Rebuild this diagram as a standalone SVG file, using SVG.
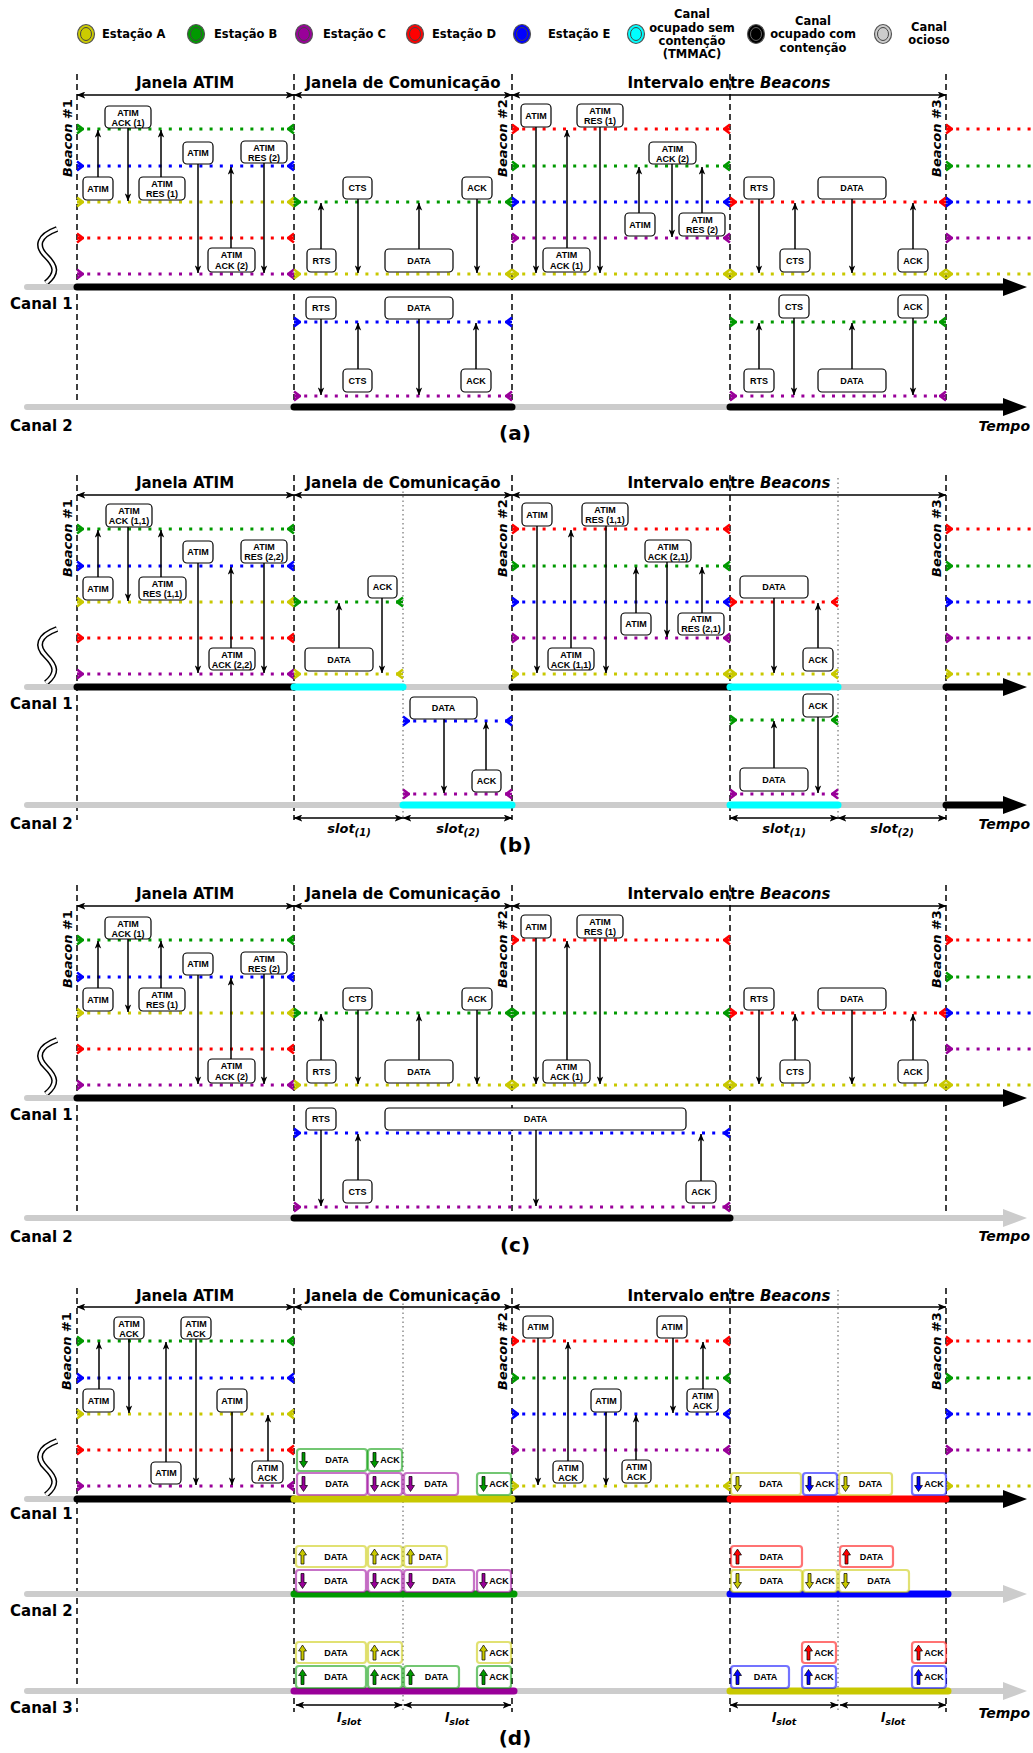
<svg xmlns="http://www.w3.org/2000/svg" width="1033" height="1753" viewBox="0 0 1033 1753">
<style>
.t{font-family:"DejaVu Sans",Verdana,sans-serif;font-weight:bold;fill:#000}
.hd{font-size:15px;text-anchor:middle}
.lg{font-size:11.5px}
.lgc{font-size:11.5px;text-anchor:middle}
.cl{font-size:15px}
.pl{font-size:20px;text-anchor:middle}
.tp{font-size:14px;font-style:italic;text-anchor:end}
.bc{font-size:13px;text-anchor:middle}
.sl{font-size:13px;font-style:italic;text-anchor:middle}
.bx{fill:#fff;stroke:#000;stroke-width:1.2}
.bt{font-family:"Liberation Sans",Arial,sans-serif;font-weight:bold;font-size:9px;text-anchor:middle;fill:#000}
.cb{fill:#fff;stroke-width:2.2;stroke-opacity:.55}
.ar{stroke:#000;stroke-width:1.5;fill:none;marker-end:url(#ah)}
.hda{stroke:#000;stroke-width:1.5;fill:none;marker-start:url(#ha);marker-end:url(#ha)}
.vd{stroke:#000;stroke-width:1.5;stroke-dasharray:6 4}
.vt{stroke:#555;stroke-width:1;stroke-dasharray:1.5 3}
.dl{fill:none;stroke-width:3;stroke-dasharray:3 7.2}
.Y{stroke:#c8c800;marker-start:url(#mY);marker-end:url(#mY)}
.G{stroke:#009900;marker-start:url(#mG);marker-end:url(#mG)}
.P{stroke:#990099;marker-start:url(#mP);marker-end:url(#mP)}
.R{stroke:#ff0000;marker-start:url(#mR);marker-end:url(#mR)}
.B{stroke:#0000ff;marker-start:url(#mB);marker-end:url(#mB)}
.oe{marker-end:none}
.ck{stroke:#000;stroke-width:7;stroke-linecap:round}
.cg{stroke:#cccccc;stroke-width:6;stroke-linecap:round}
.cc{stroke:#00ffff;stroke-width:7;stroke-linecap:round}
.brk1{fill:none;stroke:#000;stroke-width:6}
.brk2{fill:none;stroke:#fff;stroke-width:3}
</style>
<defs>
<marker id="ah" viewBox="0 0 10 8" refX="9.5" refY="4" markerWidth="8" markerHeight="7" markerUnits="userSpaceOnUse" orient="auto"><path d="M0,0L10,4L0,8L2.5,4Z" fill="#000"/></marker>
<marker id="ha" viewBox="0 0 10 8" refX="9.5" refY="4" markerWidth="9" markerHeight="7" markerUnits="userSpaceOnUse" orient="auto-start-reverse"><path d="M0,0L10,4L0,8L2.5,4Z" fill="#000"/></marker>
<marker id="mY" viewBox="-8 -6 9 12" refX="0" refY="0" markerWidth="9" markerHeight="12" markerUnits="userSpaceOnUse" orient="auto-start-reverse"><path d="M-6,0L0,-4.5M-6,0L0,4.5M-7,0H0" stroke="#c8c800" stroke-width="2.4" fill="none"/></marker>
<marker id="mG" viewBox="-8 -6 9 12" refX="0" refY="0" markerWidth="9" markerHeight="12" markerUnits="userSpaceOnUse" orient="auto-start-reverse"><path d="M-6,0L0,-4.5M-6,0L0,4.5M-7,0H0" stroke="#009900" stroke-width="2.4" fill="none"/></marker>
<marker id="mP" viewBox="-8 -6 9 12" refX="0" refY="0" markerWidth="9" markerHeight="12" markerUnits="userSpaceOnUse" orient="auto-start-reverse"><path d="M-6,0L0,-4.5M-6,0L0,4.5M-7,0H0" stroke="#990099" stroke-width="2.4" fill="none"/></marker>
<marker id="mR" viewBox="-8 -6 9 12" refX="0" refY="0" markerWidth="9" markerHeight="12" markerUnits="userSpaceOnUse" orient="auto-start-reverse"><path d="M-6,0L0,-4.5M-6,0L0,4.5M-7,0H0" stroke="#ff0000" stroke-width="2.4" fill="none"/></marker>
<marker id="mB" viewBox="-8 -6 9 12" refX="0" refY="0" markerWidth="9" markerHeight="12" markerUnits="userSpaceOnUse" orient="auto-start-reverse"><path d="M-6,0L0,-4.5M-6,0L0,4.5M-7,0H0" stroke="#0000ff" stroke-width="2.4" fill="none"/></marker>
<path id="dn" d="M2.5,0H5.5V9H8L4,15L0,9H2.5Z" stroke="#000" stroke-width=".7"/>
<path id="up" d="M4,0L8,6H5.5V15H2.5V6H0Z" stroke="#000" stroke-width=".7"/>
</defs>
<rect width="1033" height="1753" fill="#fff"/>

<g id="legend">
<ellipse cx="86" cy="34" rx="8.5" ry="9.5" fill="#cccc00" stroke="#555" stroke-width="1.2"/><ellipse cx="86" cy="34" rx="5.5" ry="6.5" fill="none" stroke="#444" stroke-width="1"/>
<text class="t lg" x="102" y="38">Estação A</text>
<ellipse cx="196" cy="34" rx="8.5" ry="9.5" fill="#009900" stroke="#555" stroke-width="1.2"/><ellipse cx="196" cy="34" rx="5.5" ry="6.5" fill="none" stroke="#444" stroke-width="1"/>
<text class="t lg" x="214" y="38">Estação B</text>
<ellipse cx="304" cy="34" rx="8.5" ry="9.5" fill="#990099" stroke="#555" stroke-width="1.2"/><ellipse cx="304" cy="34" rx="5.5" ry="6.5" fill="none" stroke="#444" stroke-width="1"/>
<text class="t lg" x="323" y="38">Estação C</text>
<ellipse cx="415" cy="34" rx="8.5" ry="9.5" fill="#ff0000" stroke="#555" stroke-width="1.2"/><ellipse cx="415" cy="34" rx="5.5" ry="6.5" fill="none" stroke="#444" stroke-width="1"/>
<text class="t lg" x="432" y="38">Estação D</text>
<ellipse cx="522" cy="34" rx="8.5" ry="9.5" fill="#0000ff" stroke="#555" stroke-width="1.2"/><ellipse cx="522" cy="34" rx="5.5" ry="6.5" fill="none" stroke="#444" stroke-width="1"/>
<text class="t lg" x="548" y="38">Estação E</text>
<ellipse cx="636" cy="34" rx="8.5" ry="9.5" fill="#00ffff" stroke="#555" stroke-width="1.2"/><ellipse cx="636" cy="34" rx="5.5" ry="6.5" fill="none" stroke="#444" stroke-width="1"/>
<text class="t lgc" x="692" y="18">Canal</text><text class="t lgc" x="692" y="32">ocupado sem</text><text class="t lgc" x="692" y="45">contenção</text><text class="t lgc" x="692" y="58">(TMMAC)</text>
<ellipse cx="756" cy="34" rx="8.5" ry="9.5" fill="#000" stroke="#555" stroke-width="1.2"/><ellipse cx="756" cy="34" rx="5.5" ry="6.5" fill="none" stroke="#666" stroke-width="1"/>
<text class="t lgc" x="813" y="25">Canal</text><text class="t lgc" x="813" y="38">ocupado com</text><text class="t lgc" x="813" y="52">contenção</text>
<ellipse cx="883" cy="34" rx="8.5" ry="9.5" fill="#cccccc" stroke="#555" stroke-width="1.2"/><ellipse cx="883" cy="34" rx="5.5" ry="6.5" fill="none" stroke="#444" stroke-width="1"/>
<text class="t lgc" x="929" y="31">Canal</text><text class="t lgc" x="929" y="44">ocioso</text>
</g>

<!-- ================= PANEL A ================= -->
<g id="panel-a">
<g id="a-frame">
<line class="vd" x1="77" y1="74" x2="77" y2="402"/><line class="vd" x1="294" y1="74" x2="294" y2="402"/><line class="vd" x1="512" y1="74" x2="512" y2="402"/><line class="vd" x1="730" y1="74" x2="730" y2="402"/><line class="vd" x1="946" y1="74" x2="946" y2="402"/>
<text class="t hd" x="185" y="88">Janela ATIM</text>
<text class="t hd" x="403" y="88">Janela de Comunicação</text>
<text class="t hd" x="729" y="88">Intervalo entre <tspan font-style="italic">Beacons</tspan></text>
<line class="hda" x1="77" y1="95" x2="294" y2="95"/><line class="hda" x1="294" y1="95" x2="512" y2="95"/><line class="hda" x1="512" y1="95" x2="946" y2="95"/>
<text class="t bc" transform="translate(72,138) rotate(-90)"><tspan font-style="italic">Beacon</tspan> #1</text>
<text class="t bc" transform="translate(507,138) rotate(-90)"><tspan font-style="italic">Beacon</tspan> #2</text>
<text class="t bc" transform="translate(941,138) rotate(-90)"><tspan font-style="italic">Beacon</tspan> #3</text>
<path class="brk1" d="M57,229C38,236 36,246 46,256C56,266 58,273 46,283"/><path class="brk2" d="M57,229C38,236 36,246 46,256C56,266 58,273 46,283"/>
<text class="t cl" x="10" y="309">Canal 1</text>
<text class="t cl" x="10" y="431">Canal 2</text>
<text class="t pl" x="515" y="440">(a)</text>
<text class="t tp" x="1030" y="431">Tempo</text>
</g>
<g id="a-lines">
<line class="dl G" x1="77" y1="129" x2="294" y2="129"/><line class="dl B" x1="77" y1="166" x2="294" y2="166"/><line class="dl Y" x1="77" y1="202" x2="294" y2="202"/><line class="dl R" x1="77" y1="238" x2="294" y2="238"/><line class="dl P" x1="77" y1="274" x2="294" y2="274"/>
<line class="dl G" x1="294" y1="202" x2="512" y2="202"/><line class="dl Y" x1="294" y1="274" x2="512" y2="274"/>
<line class="dl R" x1="512" y1="129" x2="730" y2="129"/><line class="dl G" x1="512" y1="166" x2="730" y2="166"/><line class="dl B" x1="512" y1="202" x2="730" y2="202"/><line class="dl P" x1="512" y1="238" x2="730" y2="238"/><line class="dl Y" x1="512" y1="274" x2="730" y2="274"/>
<line class="dl R" x1="730" y1="202" x2="946" y2="202"/><line class="dl Y" x1="730" y1="274" x2="946" y2="274"/>
<line class="dl R oe" x1="946" y1="129" x2="1033" y2="129"/><line class="dl G oe" x1="946" y1="166" x2="1033" y2="166"/><line class="dl B oe" x1="946" y1="202" x2="1033" y2="202"/><line class="dl P oe" x1="946" y1="238" x2="1033" y2="238"/><line class="dl Y oe" x1="946" y1="274" x2="1033" y2="274"/>
<line class="dl B" x1="294" y1="322" x2="512" y2="322"/><line class="dl P" x1="294" y1="396" x2="512" y2="396"/>
<line class="dl G" x1="730" y1="322" x2="946" y2="322"/><line class="dl P" x1="730" y1="396" x2="946" y2="396"/>
</g>
<g id="a-channels">
<line class="cg" x1="27" y1="287" x2="1008" y2="287"/><line class="ck" x1="77" y1="287" x2="1008" y2="287"/><polygon points="1003,278 1027,287 1003,296" fill="#000"/>
<line class="cg" x1="27" y1="407" x2="1008" y2="407"/><line class="ck" x1="294" y1="407" x2="512" y2="407"/><line class="ck" x1="730" y1="407" x2="1008" y2="407"/><polygon points="1003,398 1027,407 1003,416" fill="#000"/>
</g>
<g id="a-connectors">
<line class="ar" x1="98" y1="177" x2="98" y2="130"/><line class="ar" x1="128" y1="128" x2="128" y2="201"/><line class="ar" x1="161" y1="177" x2="161" y2="130"/><line class="ar" x1="198" y1="164" x2="198" y2="273"/><line class="ar" x1="231" y1="248" x2="231" y2="167"/><line class="ar" x1="264" y1="163" x2="264" y2="273"/>
<line class="ar" x1="358" y1="199" x2="358" y2="273"/><line class="ar" x1="477" y1="199" x2="477" y2="273"/><line class="ar" x1="321" y1="249" x2="321" y2="203"/><line class="ar" x1="419" y1="249" x2="419" y2="203"/>
<line class="ar" x1="536" y1="127" x2="536" y2="273"/><line class="ar" x1="600" y1="127" x2="600" y2="273"/><line class="ar" x1="567" y1="248" x2="567" y2="130"/><line class="ar" x1="672" y1="164" x2="672" y2="237"/><line class="ar" x1="639" y1="213" x2="639" y2="167"/><line class="ar" x1="702" y1="213" x2="702" y2="167"/>
<line class="ar" x1="759" y1="199" x2="759" y2="273"/><line class="ar" x1="852" y1="199" x2="852" y2="273"/><line class="ar" x1="795" y1="249" x2="795" y2="203"/><line class="ar" x1="913" y1="249" x2="913" y2="203"/>
<line class="ar" x1="321" y1="319" x2="321" y2="395"/><line class="ar" x1="419" y1="319" x2="419" y2="395"/><line class="ar" x1="358" y1="369" x2="358" y2="323"/><line class="ar" x1="476" y1="369" x2="476" y2="323"/>
<line class="ar" x1="794" y1="318" x2="794" y2="395"/><line class="ar" x1="913" y1="318" x2="913" y2="395"/><line class="ar" x1="759" y1="369" x2="759" y2="323"/><line class="ar" x1="852" y1="369" x2="852" y2="323"/>
</g>
<g id="a-nodes">
<g id="a-atim1"><rect class="bx" x="83" y="177" width="30" height="23" rx="4"/><text class="bt" x="98" y="191.8">ATIM</text></g>
<g id="a-atimack1"><rect class="bx" x="105" y="106" width="46" height="22" rx="4"/><text class="bt" x="128" y="115.5">ATIM</text><text class="bt" x="128" y="125.5">ACK (1)</text></g>
<g id="a-atimres1"><rect class="bx" x="139" y="177" width="46" height="23" rx="4"/><text class="bt" x="162" y="186.5">ATIM</text><text class="bt" x="162" y="196.5">RES (1)</text></g>
<g id="a-atim2"><rect class="bx" x="183" y="142" width="30" height="22" rx="4"/><text class="bt" x="198" y="156.3">ATIM</text></g>
<g id="a-atimack2"><rect class="bx" x="208" y="248" width="47" height="24" rx="4"/><text class="bt" x="231.5" y="258">ATIM</text><text class="bt" x="231.5" y="268.5">ACK (2)</text></g>
<g id="a-atimres2"><rect class="bx" x="241" y="141" width="46" height="22" rx="4"/><text class="bt" x="264" y="150.5">ATIM</text><text class="bt" x="264" y="160.5">RES (2)</text></g>
<g id="a-cts1"><rect class="bx" x="343" y="177" width="29" height="22" rx="4"/><text class="bt" x="357.5" y="191.3">CTS</text></g>
<g id="a-ack1"><rect class="bx" x="462" y="177" width="30" height="22" rx="4"/><text class="bt" x="477" y="191.3">ACK</text></g>
<g id="a-rts1"><rect class="bx" x="307" y="249" width="29" height="23" rx="4"/><text class="bt" x="321.5" y="263.8">RTS</text></g>
<g id="a-data1"><rect class="bx" x="385" y="249" width="68" height="23" rx="4"/><text class="bt" x="419" y="263.8">DATA</text></g>
<g id="a-atim3"><rect class="bx" x="521" y="104" width="30" height="23" rx="4"/><text class="bt" x="536" y="118.8">ATIM</text></g>
<g id="a-atimres3"><rect class="bx" x="577" y="104" width="46" height="23" rx="4"/><text class="bt" x="600" y="113.5">ATIM</text><text class="bt" x="600" y="123.5">RES (1)</text></g>
<g id="a-atimack3"><rect class="bx" x="543" y="248" width="47" height="24" rx="4"/><text class="bt" x="566.5" y="258">ATIM</text><text class="bt" x="566.5" y="268.5">ACK (1)</text></g>
<g id="a-atimack4"><rect class="bx" x="649" y="142" width="47" height="22" rx="4"/><text class="bt" x="672.5" y="151.5">ATIM</text><text class="bt" x="672.5" y="161.5">ACK (2)</text></g>
<g id="a-atim4"><rect class="bx" x="625" y="213" width="30" height="23" rx="4"/><text class="bt" x="640" y="227.8">ATIM</text></g>
<g id="a-atimres4"><rect class="bx" x="679" y="213" width="46" height="23" rx="4"/><text class="bt" x="702" y="222.5">ATIM</text><text class="bt" x="702" y="232.5">RES (2)</text></g>
<g id="a-rts2"><rect class="bx" x="744" y="177" width="30" height="22" rx="4"/><text class="bt" x="759" y="191.3">RTS</text></g>
<g id="a-data2"><rect class="bx" x="818" y="177" width="68" height="22" rx="4"/><text class="bt" x="852" y="191.3">DATA</text></g>
<g id="a-cts2"><rect class="bx" x="780" y="249" width="30" height="23" rx="4"/><text class="bt" x="795" y="263.8">CTS</text></g>
<g id="a-ack2"><rect class="bx" x="898" y="249" width="30" height="23" rx="4"/><text class="bt" x="913" y="263.8">ACK</text></g>
<g id="a-rts3"><rect class="bx" x="306" y="297" width="30" height="22" rx="4"/><text class="bt" x="321" y="311.3">RTS</text></g>
<g id="a-data3"><rect class="bx" x="385" y="297" width="68" height="22" rx="4"/><text class="bt" x="419" y="311.3">DATA</text></g>
<g id="a-cts3"><rect class="bx" x="343" y="369" width="29" height="23" rx="4"/><text class="bt" x="357.5" y="383.8">CTS</text></g>
<g id="a-ack3"><rect class="bx" x="461" y="369" width="30" height="23" rx="4"/><text class="bt" x="476" y="383.8">ACK</text></g>
<g id="a-cts4"><rect class="bx" x="779" y="295" width="30" height="23" rx="4"/><text class="bt" x="794" y="309.8">CTS</text></g>
<g id="a-ack4"><rect class="bx" x="898" y="295" width="30" height="23" rx="4"/><text class="bt" x="913" y="309.8">ACK</text></g>
<g id="a-rts4"><rect class="bx" x="744" y="369" width="30" height="23" rx="4"/><text class="bt" x="759" y="383.8">RTS</text></g>
<g id="a-data4"><rect class="bx" x="818" y="369" width="68" height="23" rx="4"/><text class="bt" x="852" y="383.8">DATA</text></g>
</g>
</g>

<!-- ================= PANEL B ================= -->
<g id="panel-b" transform="translate(0,400)">
<g id="b-frame">
<line class="vd" x1="77" y1="75" x2="77" y2="420"/><line class="vd" x1="294" y1="75" x2="294" y2="420"/><line class="vd" x1="512" y1="75" x2="512" y2="420"/><line class="vd" x1="730" y1="75" x2="730" y2="420"/><line class="vd" x1="946" y1="75" x2="946" y2="420"/>
<line class="vt" x1="403" y1="78" x2="403" y2="420"/><line class="vt" x1="838" y1="78" x2="838" y2="420"/>
<text class="t hd" x="185" y="88">Janela ATIM</text>
<text class="t hd" x="403" y="88">Janela de Comunicação</text>
<text class="t hd" x="729" y="88">Intervalo entre <tspan font-style="italic">Beacons</tspan></text>
<line class="hda" x1="77" y1="95" x2="294" y2="95"/><line class="hda" x1="294" y1="95" x2="512" y2="95"/><line class="hda" x1="512" y1="95" x2="946" y2="95"/>
<text class="t bc" transform="translate(72,138) rotate(-90)"><tspan font-style="italic">Beacon</tspan> #1</text>
<text class="t bc" transform="translate(507,138) rotate(-90)"><tspan font-style="italic">Beacon</tspan> #2</text>
<text class="t bc" transform="translate(941,138) rotate(-90)"><tspan font-style="italic">Beacon</tspan> #3</text>
<path class="brk1" d="M57,229C38,236 36,246 46,256C56,266 58,273 46,283"/><path class="brk2" d="M57,229C38,236 36,246 46,256C56,266 58,273 46,283"/>
<line class="hda" x1="294" y1="418" x2="403" y2="418"/><line class="hda" x1="403" y1="418" x2="512" y2="418"/><line class="hda" x1="730" y1="418" x2="838" y2="418"/><line class="hda" x1="838" y1="418" x2="946" y2="418"/>
<text class="t sl" x="349" y="433">slot<tspan font-size="10" dy="3">(1)</tspan></text>
<text class="t sl" x="458" y="433">slot<tspan font-size="10" dy="3">(2)</tspan></text>
<text class="t sl" x="784" y="433">slot<tspan font-size="10" dy="3">(1)</tspan></text>
<text class="t sl" x="892" y="433">slot<tspan font-size="10" dy="3">(2)</tspan></text>
<text class="t cl" x="10" y="309">Canal 1</text>
<text class="t cl" x="10" y="429">Canal 2</text>
<text class="t pl" x="515" y="452">(b)</text>
<text class="t tp" x="1030" y="429">Tempo</text>
</g>
<g id="b-lines">
<line class="dl G" x1="77" y1="129" x2="294" y2="129"/><line class="dl B" x1="77" y1="166" x2="294" y2="166"/><line class="dl Y" x1="77" y1="202" x2="294" y2="202"/><line class="dl R" x1="77" y1="238" x2="294" y2="238"/><line class="dl P" x1="77" y1="274" x2="294" y2="274"/>
<line class="dl G" x1="294" y1="202" x2="403" y2="202"/><line class="dl Y" x1="294" y1="274" x2="403" y2="274"/>
<line class="dl R" x1="512" y1="129" x2="730" y2="129"/><line class="dl G" x1="512" y1="166" x2="730" y2="166"/><line class="dl B" x1="512" y1="202" x2="730" y2="202"/><line class="dl P" x1="512" y1="238" x2="730" y2="238"/><line class="dl Y" x1="512" y1="274" x2="730" y2="274"/>
<line class="dl R" x1="730" y1="202" x2="838" y2="202"/><line class="dl Y" x1="730" y1="274" x2="838" y2="274"/>
<line class="dl R oe" x1="946" y1="129" x2="1033" y2="129"/><line class="dl G oe" x1="946" y1="166" x2="1033" y2="166"/><line class="dl B oe" x1="946" y1="202" x2="1033" y2="202"/><line class="dl P oe" x1="946" y1="238" x2="1033" y2="238"/><line class="dl Y oe" x1="946" y1="274" x2="1033" y2="274"/>
<line class="dl B" x1="403" y1="321" x2="512" y2="321"/><line class="dl P" x1="403" y1="394" x2="512" y2="394"/>
<line class="dl G" x1="730" y1="320" x2="838" y2="320"/><line class="dl P" x1="730" y1="394" x2="838" y2="394"/>
</g>
<g id="b-channels">
<line class="cg" x1="27" y1="287" x2="1008" y2="287"/><line class="ck" x1="77" y1="287" x2="294" y2="287"/><line class="ck" x1="512" y1="287" x2="730" y2="287"/><line class="ck" x1="946" y1="287" x2="1008" y2="287"/><line class="cc" x1="294" y1="287" x2="403" y2="287"/><line class="cc" x1="730" y1="287" x2="838" y2="287"/><polygon points="1003,278 1027,287 1003,296" fill="#000"/>
<line class="cg" x1="27" y1="405" x2="1008" y2="405"/><line class="cc" x1="403" y1="405" x2="512" y2="405"/><line class="cc" x1="730" y1="405" x2="838" y2="405"/><line class="ck" x1="946" y1="405" x2="1008" y2="405"/><polygon points="1003,396 1027,405 1003,414" fill="#000"/>
</g>
<g id="b-connectors">
<line class="ar" x1="98" y1="177" x2="98" y2="130"/><line class="ar" x1="128" y1="127" x2="128" y2="201"/><line class="ar" x1="161" y1="177" x2="161" y2="130"/><line class="ar" x1="198" y1="163" x2="198" y2="273"/><line class="ar" x1="231" y1="248" x2="231" y2="167"/><line class="ar" x1="264" y1="163" x2="264" y2="273"/>
<line class="ar" x1="382" y1="198" x2="382" y2="273"/><line class="ar" x1="339" y1="248" x2="339" y2="203"/>
<line class="ar" x1="537" y1="126" x2="537" y2="273"/><line class="ar" x1="606" y1="126" x2="606" y2="273"/><line class="ar" x1="571" y1="248" x2="571" y2="130"/><line class="ar" x1="667" y1="162" x2="667" y2="237"/><line class="ar" x1="636" y1="213" x2="636" y2="167"/><line class="ar" x1="702" y1="213" x2="702" y2="167"/>
<line class="ar" x1="774" y1="198" x2="774" y2="273"/><line class="ar" x1="818" y1="248" x2="818" y2="203"/>
<line class="ar" x1="444" y1="319" x2="444" y2="393"/><line class="ar" x1="486" y1="370" x2="486" y2="322"/>
<line class="ar" x1="818" y1="317" x2="818" y2="393"/><line class="ar" x1="774" y1="368" x2="774" y2="321"/>
</g>
<g id="b-nodes">
<g id="b-atim1"><rect class="bx" x="83" y="177" width="30" height="23" rx="4"/><text class="bt" x="98" y="191.8">ATIM</text></g>
<g id="b-atimack1"><rect class="bx" x="106" y="104" width="46" height="23" rx="4"/><text class="bt" x="129" y="113.5">ATIM</text><text class="bt" x="129" y="123.5">ACK (1,1)</text></g>
<g id="b-atimres1"><rect class="bx" x="139" y="177" width="47" height="23" rx="4"/><text class="bt" x="162.5" y="186.5">ATIM</text><text class="bt" x="162.5" y="196.5">RES (1,1)</text></g>
<g id="b-atim2"><rect class="bx" x="183" y="141" width="30" height="22" rx="4"/><text class="bt" x="198" y="155.3">ATIM</text></g>
<g id="b-atimack2"><rect class="bx" x="209" y="248" width="46" height="22" rx="4"/><text class="bt" x="232" y="257.5">ATIM</text><text class="bt" x="232" y="267.5">ACK (2,2)</text></g>
<g id="b-atimres2"><rect class="bx" x="241" y="140" width="46" height="23" rx="4"/><text class="bt" x="264" y="149.5">ATIM</text><text class="bt" x="264" y="159.5">RES (2,2)</text></g>
<g id="b-ack1"><rect class="bx" x="368" y="176" width="29" height="22" rx="4"/><text class="bt" x="382.5" y="190.3">ACK</text></g>
<g id="b-data1"><rect class="bx" x="305" y="248" width="68" height="23" rx="4"/><text class="bt" x="339" y="262.8">DATA</text></g>
<g id="b-atim3"><rect class="bx" x="522" y="103" width="30" height="23" rx="4"/><text class="bt" x="537" y="117.8">ATIM</text></g>
<g id="b-atimres3"><rect class="bx" x="582" y="103" width="46" height="23" rx="4"/><text class="bt" x="605" y="112.5">ATIM</text><text class="bt" x="605" y="122.5">RES (1,1)</text></g>
<g id="b-atimack3"><rect class="bx" x="548" y="248" width="46" height="22" rx="4"/><text class="bt" x="571" y="257.5">ATIM</text><text class="bt" x="571" y="267.5">ACK (1,1)</text></g>
<g id="b-atimack4"><rect class="bx" x="645" y="140" width="46" height="22" rx="4"/><text class="bt" x="668" y="149.5">ATIM</text><text class="bt" x="668" y="159.5">ACK (2,1)</text></g>
<g id="b-atim4"><rect class="bx" x="621" y="213" width="30" height="22" rx="4"/><text class="bt" x="636" y="227.3">ATIM</text></g>
<g id="b-atimres4"><rect class="bx" x="678" y="213" width="46" height="22" rx="4"/><text class="bt" x="701" y="222">ATIM</text><text class="bt" x="701" y="232">RES (2,1)</text></g>
<g id="b-data2"><rect class="bx" x="740" y="176" width="68" height="22" rx="4"/><text class="bt" x="774" y="190.3">DATA</text></g>
<g id="b-ack2"><rect class="bx" x="803" y="248" width="30" height="23" rx="4"/><text class="bt" x="818" y="262.8">ACK</text></g>
<g id="b-data3"><rect class="bx" x="410" y="297" width="67" height="22" rx="4"/><text class="bt" x="443.5" y="311.3">DATA</text></g>
<g id="b-ack3"><rect class="bx" x="472" y="370" width="29" height="22" rx="4"/><text class="bt" x="486.5" y="384.3">ACK</text></g>
<g id="b-ack4"><rect class="bx" x="803" y="294" width="30" height="23" rx="4"/><text class="bt" x="818" y="308.8">ACK</text></g>
<g id="b-data4"><rect class="bx" x="740" y="368" width="68" height="23" rx="4"/><text class="bt" x="774" y="382.8">DATA</text></g>
</g>
</g>

<!-- ================= PANEL C ================= -->
<g id="panel-c" transform="translate(0,811)">
<g id="c-frame">
<line class="vd" x1="77" y1="74" x2="77" y2="404"/><line class="vd" x1="294" y1="74" x2="294" y2="404"/><line class="vd" x1="512" y1="74" x2="512" y2="404"/><line class="vd" x1="730" y1="74" x2="730" y2="404"/><line class="vd" x1="946" y1="74" x2="946" y2="404"/>
<text class="t hd" x="185" y="88">Janela ATIM</text>
<text class="t hd" x="403" y="88">Janela de Comunicação</text>
<text class="t hd" x="729" y="88">Intervalo entre <tspan font-style="italic">Beacons</tspan></text>
<line class="hda" x1="77" y1="95" x2="294" y2="95"/><line class="hda" x1="294" y1="95" x2="512" y2="95"/><line class="hda" x1="512" y1="95" x2="946" y2="95"/>
<text class="t bc" transform="translate(72,138) rotate(-90)"><tspan font-style="italic">Beacon</tspan> #1</text>
<text class="t bc" transform="translate(507,138) rotate(-90)"><tspan font-style="italic">Beacon</tspan> #2</text>
<text class="t bc" transform="translate(941,138) rotate(-90)"><tspan font-style="italic">Beacon</tspan> #3</text>
<path class="brk1" d="M57,229C38,236 36,246 46,256C56,266 58,273 46,283"/><path class="brk2" d="M57,229C38,236 36,246 46,256C56,266 58,273 46,283"/>
<text class="t cl" x="10" y="309">Canal 1</text>
<text class="t cl" x="10" y="431">Canal 2</text>
<text class="t pl" x="515" y="441">(c)</text>
<text class="t tp" x="1030" y="430">Tempo</text>
</g>
<g id="c-lines">
<line class="dl G" x1="77" y1="129" x2="294" y2="129"/><line class="dl B" x1="77" y1="166" x2="294" y2="166"/><line class="dl Y" x1="77" y1="202" x2="294" y2="202"/><line class="dl R" x1="77" y1="238" x2="294" y2="238"/><line class="dl P" x1="77" y1="274" x2="294" y2="274"/>
<line class="dl G" x1="294" y1="202" x2="512" y2="202"/><line class="dl Y" x1="294" y1="274" x2="512" y2="274"/>
<line class="dl R" x1="512" y1="129" x2="730" y2="129"/><line class="dl G" x1="512" y1="202" x2="730" y2="202"/><line class="dl Y" x1="512" y1="274" x2="730" y2="274"/>
<line class="dl R" x1="730" y1="202" x2="946" y2="202"/><line class="dl Y" x1="730" y1="274" x2="946" y2="274"/>
<line class="dl R oe" x1="946" y1="129" x2="1033" y2="129"/><line class="dl G oe" x1="946" y1="166" x2="1033" y2="166"/><line class="dl B oe" x1="946" y1="202" x2="1033" y2="202"/><line class="dl P oe" x1="946" y1="238" x2="1033" y2="238"/><line class="dl Y oe" x1="946" y1="274" x2="1033" y2="274"/>
<line class="dl B" x1="294" y1="322" x2="730" y2="322"/><line class="dl P" x1="294" y1="396" x2="730" y2="396"/>
</g>
<g id="c-channels">
<line class="cg" x1="27" y1="287" x2="1008" y2="287"/><line class="ck" x1="77" y1="287" x2="1008" y2="287"/><polygon points="1003,278 1027,287 1003,296" fill="#000"/>
<line class="cg" x1="27" y1="407" x2="1008" y2="407"/><line class="ck" x1="294" y1="407" x2="730" y2="407"/><polygon points="1003,398 1027,407 1003,416" fill="#cccccc"/>
</g>
<g id="c-connectors">
<line class="ar" x1="98" y1="177" x2="98" y2="130"/><line class="ar" x1="128" y1="128" x2="128" y2="201"/><line class="ar" x1="161" y1="177" x2="161" y2="130"/><line class="ar" x1="198" y1="164" x2="198" y2="273"/><line class="ar" x1="231" y1="248" x2="231" y2="167"/><line class="ar" x1="264" y1="163" x2="264" y2="273"/>
<line class="ar" x1="358" y1="199" x2="358" y2="273"/><line class="ar" x1="477" y1="199" x2="477" y2="273"/><line class="ar" x1="321" y1="249" x2="321" y2="203"/><line class="ar" x1="419" y1="249" x2="419" y2="203"/>
<line class="ar" x1="536" y1="127" x2="536" y2="273"/><line class="ar" x1="600" y1="127" x2="600" y2="273"/><line class="ar" x1="567" y1="249" x2="567" y2="130"/>
<line class="ar" x1="759" y1="199" x2="759" y2="273"/><line class="ar" x1="852" y1="199" x2="852" y2="273"/><line class="ar" x1="795" y1="249" x2="795" y2="203"/><line class="ar" x1="913" y1="249" x2="913" y2="203"/>
<line class="ar" x1="321" y1="319" x2="321" y2="395"/><line class="ar" x1="536" y1="319" x2="536" y2="395"/><line class="ar" x1="358" y1="369" x2="358" y2="323"/><line class="ar" x1="701" y1="370" x2="701" y2="323"/>
</g>
<g id="c-nodes">
<g id="c-atim1"><rect class="bx" x="83" y="177" width="30" height="23" rx="4"/><text class="bt" x="98" y="191.8">ATIM</text></g>
<g id="c-atimack1"><rect class="bx" x="105" y="106" width="46" height="22" rx="4"/><text class="bt" x="128" y="115.5">ATIM</text><text class="bt" x="128" y="125.5">ACK (1)</text></g>
<g id="c-atimres1"><rect class="bx" x="139" y="177" width="46" height="23" rx="4"/><text class="bt" x="162" y="186.5">ATIM</text><text class="bt" x="162" y="196.5">RES (1)</text></g>
<g id="c-atim2"><rect class="bx" x="183" y="142" width="30" height="22" rx="4"/><text class="bt" x="198" y="156.3">ATIM</text></g>
<g id="c-atimack2"><rect class="bx" x="208" y="248" width="47" height="24" rx="4"/><text class="bt" x="231.5" y="258">ATIM</text><text class="bt" x="231.5" y="268.5">ACK (2)</text></g>
<g id="c-atimres2"><rect class="bx" x="241" y="141" width="46" height="22" rx="4"/><text class="bt" x="264" y="150.5">ATIM</text><text class="bt" x="264" y="160.5">RES (2)</text></g>
<g id="c-cts1"><rect class="bx" x="343" y="177" width="29" height="22" rx="4"/><text class="bt" x="357.5" y="191.3">CTS</text></g>
<g id="c-ack1"><rect class="bx" x="462" y="177" width="30" height="22" rx="4"/><text class="bt" x="477" y="191.3">ACK</text></g>
<g id="c-rts1"><rect class="bx" x="307" y="249" width="29" height="23" rx="4"/><text class="bt" x="321.5" y="263.8">RTS</text></g>
<g id="c-data1"><rect class="bx" x="385" y="249" width="68" height="23" rx="4"/><text class="bt" x="419" y="263.8">DATA</text></g>
<g id="c-atim3"><rect class="bx" x="521" y="104" width="30" height="23" rx="4"/><text class="bt" x="536" y="118.8">ATIM</text></g>
<g id="c-atimres3"><rect class="bx" x="577" y="104" width="46" height="23" rx="4"/><text class="bt" x="600" y="113.5">ATIM</text><text class="bt" x="600" y="123.5">RES (1)</text></g>
<g id="c-atimack3"><rect class="bx" x="543" y="249" width="47" height="23" rx="4"/><text class="bt" x="566.5" y="258.5">ATIM</text><text class="bt" x="566.5" y="268.5">ACK (1)</text></g>
<g id="c-rts2"><rect class="bx" x="744" y="177" width="30" height="22" rx="4"/><text class="bt" x="759" y="191.3">RTS</text></g>
<g id="c-data2"><rect class="bx" x="818" y="177" width="68" height="22" rx="4"/><text class="bt" x="852" y="191.3">DATA</text></g>
<g id="c-cts2"><rect class="bx" x="780" y="249" width="30" height="23" rx="4"/><text class="bt" x="795" y="263.8">CTS</text></g>
<g id="c-ack2"><rect class="bx" x="898" y="249" width="30" height="23" rx="4"/><text class="bt" x="913" y="263.8">ACK</text></g>
<g id="c-rts3"><rect class="bx" x="306" y="297" width="30" height="22" rx="4"/><text class="bt" x="321" y="311.3">RTS</text></g>
<g id="c-data3"><rect class="bx" x="385" y="297" width="301" height="22" rx="4"/><text class="bt" x="535.5" y="311.3">DATA</text></g>
<g id="c-cts3"><rect class="bx" x="343" y="369" width="29" height="23" rx="4"/><text class="bt" x="357.5" y="383.8">CTS</text></g>
<g id="c-ack3"><rect class="bx" x="686" y="370" width="30" height="22" rx="4"/><text class="bt" x="701" y="384.3">ACK</text></g>
</g>
</g>

<!-- ================= PANEL D ================= -->
<g id="panel-d" transform="translate(0,1212)">
<g id="d-frame">
<line class="vd" x1="77" y1="76" x2="77" y2="500"/><line class="vd" x1="294" y1="76" x2="294" y2="500"/><line class="vd" x1="512" y1="76" x2="512" y2="500"/><line class="vd" x1="730" y1="76" x2="730" y2="500"/><line class="vd" x1="946" y1="76" x2="946" y2="500"/>
<line class="vt" x1="403" y1="78" x2="403" y2="500"/><line class="vt" x1="838" y1="78" x2="838" y2="500"/>
<text class="t hd" x="185" y="89">Janela ATIM</text>
<text class="t hd" x="403" y="89">Janela de Comunicação</text>
<text class="t hd" x="729" y="89">Intervalo entre <tspan font-style="italic">Beacons</tspan></text>
<line class="hda" x1="77" y1="95" x2="294" y2="95"/><line class="hda" x1="294" y1="95" x2="512" y2="95"/><line class="hda" x1="512" y1="95" x2="946" y2="95"/>
<text class="t bc" transform="translate(71,139) rotate(-90)"><tspan font-style="italic">Beacon</tspan> #1</text>
<text class="t bc" transform="translate(507,139) rotate(-90)"><tspan font-style="italic">Beacon</tspan> #2</text>
<text class="t bc" transform="translate(941,139) rotate(-90)"><tspan font-style="italic">Beacon</tspan> #3</text>
<path class="brk1" d="M57,229C38,236 36,246 46,256C56,266 58,273 46,283"/><path class="brk2" d="M57,229C38,236 36,246 46,256C56,266 58,273 46,283"/>
<line class="hda" x1="296" y1="493" x2="402" y2="493"/><line class="hda" x1="404" y1="493" x2="511" y2="493"/><line class="hda" x1="730" y1="493" x2="838" y2="493"/><line class="hda" x1="840" y1="493" x2="946" y2="493"/>
<text class="t sl" x="349" y="510">l<tspan font-size="9.5" dy="3">slot</tspan></text>
<text class="t sl" x="457" y="510">l<tspan font-size="9.5" dy="3">slot</tspan></text>
<text class="t sl" x="784" y="510">l<tspan font-size="9.5" dy="3">slot</tspan></text>
<text class="t sl" x="893" y="510">l<tspan font-size="9.5" dy="3">slot</tspan></text>
<text class="t cl" x="10" y="307">Canal 1</text>
<text class="t cl" x="10" y="404">Canal 2</text>
<text class="t cl" x="10" y="501">Canal 3</text>
<text class="t pl" x="515" y="533">(d)</text>
<text class="t tp" x="1030" y="506">Tempo</text>
</g>
<g id="d-lines">
<line class="dl G" x1="77" y1="129" x2="294" y2="129"/><line class="dl B" x1="77" y1="166" x2="294" y2="166"/><line class="dl Y" x1="77" y1="202" x2="294" y2="202"/><line class="dl R" x1="77" y1="238" x2="294" y2="238"/><line class="dl P" x1="77" y1="274" x2="294" y2="274"/>
<line class="dl R" x1="512" y1="129" x2="730" y2="129"/><line class="dl G" x1="512" y1="166" x2="730" y2="166"/><line class="dl B" x1="512" y1="202" x2="730" y2="202"/><line class="dl P" x1="512" y1="238" x2="730" y2="238"/><line class="dl Y" x1="512" y1="274" x2="730" y2="274"/>
<line class="dl R oe" x1="946" y1="129" x2="1033" y2="129"/><line class="dl G oe" x1="946" y1="166" x2="1033" y2="166"/><line class="dl B oe" x1="946" y1="202" x2="1033" y2="202"/><line class="dl P oe" x1="946" y1="238" x2="1033" y2="238"/><line class="dl Y oe" x1="946" y1="274" x2="1033" y2="274"/>
</g>
<g id="d-channels">
<line class="cg" x1="27" y1="287" x2="1008" y2="287"/><line class="ck" x1="77" y1="287" x2="294" y2="287"/><line class="ck" x1="512" y1="287" x2="730" y2="287"/><line class="ck" x1="946" y1="287" x2="1008" y2="287"/>
<line x1="294" y1="287" x2="512" y2="287" stroke="#c8c800" stroke-width="7" stroke-linecap="round"/><line x1="730" y1="287" x2="946" y2="287" stroke="#ff0000" stroke-width="7" stroke-linecap="round"/>
<polygon points="1003,278 1027,287 1003,296" fill="#000"/>
<line class="cg" x1="27" y1="382" x2="1008" y2="382"/><line x1="294" y1="382" x2="514" y2="382" stroke="#009900" stroke-width="7" stroke-linecap="round"/><line x1="730" y1="382" x2="948" y2="382" stroke="#0000ff" stroke-width="7" stroke-linecap="round"/><polygon points="1003,373 1027,382 1003,391" fill="#cccccc"/>
<line class="cg" x1="27" y1="479" x2="1008" y2="479"/><line x1="294" y1="479" x2="514" y2="479" stroke="#990099" stroke-width="7" stroke-linecap="round"/><line x1="730" y1="479" x2="948" y2="479" stroke="#c8c800" stroke-width="7" stroke-linecap="round"/><polygon points="1003,470 1027,479 1003,488" fill="#cccccc"/>
</g>
<g id="d-connectors">
<line class="ar" x1="99" y1="177" x2="99" y2="130"/><line class="ar" x1="129" y1="127" x2="129" y2="201"/><line class="ar" x1="166" y1="250" x2="166" y2="130"/><line class="ar" x1="196" y1="127" x2="196" y2="273"/><line class="ar" x1="232" y1="200" x2="232" y2="273"/><line class="ar" x1="268" y1="249" x2="268" y2="203"/>
<line class="ar" x1="538" y1="126" x2="538" y2="273"/><line class="ar" x1="568" y1="249" x2="568" y2="130"/><line class="ar" x1="606" y1="200" x2="606" y2="273"/><line class="ar" x1="636" y1="248" x2="636" y2="203"/><line class="ar" x1="673" y1="126" x2="673" y2="201"/><line class="ar" x1="703" y1="177" x2="703" y2="130"/>
</g>
<g id="d-nodes">
<g id="d-atim1"><rect class="bx" x="83" y="177" width="31" height="23" rx="4"/><text class="bt" x="98.5" y="191.8">ATIM</text></g>
<g id="d-atimack1"><rect class="bx" x="114" y="105" width="30" height="22" rx="4"/><text class="bt" x="129" y="114.5">ATIM</text><text class="bt" x="129" y="124.5">ACK</text></g>
<g id="d-atim2"><rect class="bx" x="151" y="250" width="30" height="22" rx="4"/><text class="bt" x="166" y="264.3">ATIM</text></g>
<g id="d-atimack2"><rect class="bx" x="181" y="105" width="30" height="22" rx="4"/><text class="bt" x="196" y="114.5">ATIM</text><text class="bt" x="196" y="124.5">ACK</text></g>
<g id="d-atim3"><rect class="bx" x="217" y="177" width="30" height="23" rx="4"/><text class="bt" x="232" y="191.8">ATIM</text></g>
<g id="d-atimack3"><rect class="bx" x="252" y="249" width="31" height="22" rx="4"/><text class="bt" x="267.5" y="258.5">ATIM</text><text class="bt" x="267.5" y="268.5">ACK</text></g>
<g id="d-atim4"><rect class="bx" x="523" y="104" width="30" height="22" rx="4"/><text class="bt" x="538" y="118.3">ATIM</text></g>
<g id="d-atimack4"><rect class="bx" x="553" y="249" width="30" height="22" rx="4"/><text class="bt" x="568" y="258.5">ATIM</text><text class="bt" x="568" y="268.5">ACK</text></g>
<g id="d-atim5"><rect class="bx" x="591" y="177" width="30" height="23" rx="4"/><text class="bt" x="606" y="191.8">ATIM</text></g>
<g id="d-atimack5"><rect class="bx" x="622" y="248" width="29" height="23" rx="4"/><text class="bt" x="636.5" y="257.5">ATIM</text><text class="bt" x="636.5" y="267.5">ACK</text></g>
<g id="d-atim6"><rect class="bx" x="657" y="104" width="30" height="22" rx="4"/><text class="bt" x="672" y="118.3">ATIM</text></g>
<g id="d-atimack6"><rect class="bx" x="687" y="177" width="31" height="23" rx="4"/><text class="bt" x="702.5" y="186.5">ATIM</text><text class="bt" x="702.5" y="196.5">ACK</text></g>

<g id="d-c1a1"><rect class="cb" x="297" y="237" width="70" height="22" rx="3" stroke="#009900"/><use href="#dn" x="299.5" y="240.5" fill="#009900"/><text class="bt" x="337" y="251.2">DATA</text></g>
<g id="d-c1a2"><rect class="cb" x="368" y="237" width="34" height="22" rx="3" stroke="#009900"/><use href="#dn" x="370.5" y="240.5" fill="#009900"/><text class="bt" x="390" y="251.2">ACK</text></g>
<g id="d-c1b1"><rect class="cb" x="297" y="261" width="70" height="22" rx="3" stroke="#990099"/><use href="#dn" x="299.5" y="264.5" fill="#990099"/><text class="bt" x="337" y="275.2">DATA</text></g>
<g id="d-c1b2"><rect class="cb" x="368" y="261" width="34" height="22" rx="3" stroke="#990099"/><use href="#dn" x="370.5" y="264.5" fill="#990099"/><text class="bt" x="390" y="275.2">ACK</text></g>
<g id="d-c1b3"><rect class="cb" x="404" y="261" width="54" height="22" rx="3" stroke="#990099"/><use href="#dn" x="406.5" y="264.5" fill="#990099"/><text class="bt" x="436" y="275.2">DATA</text></g>
<g id="d-c1b4"><rect class="cb" x="477" y="261" width="34" height="22" rx="3" stroke="#009900"/><use href="#dn" x="479.5" y="264.5" fill="#009900"/><text class="bt" x="499" y="275.2">ACK</text></g>
<g id="d-c1b5"><rect class="cb" x="731" y="261" width="70" height="22" rx="3" stroke="#c8c800"/><use href="#dn" x="733.5" y="264.5" fill="#c8c800"/><text class="bt" x="771" y="275.2">DATA</text></g>
<g id="d-c1b6"><rect class="cb" x="803" y="261" width="34" height="22" rx="3" stroke="#0000ff"/><use href="#dn" x="805.5" y="264.5" fill="#0000ff"/><text class="bt" x="825" y="275.2">ACK</text></g>
<g id="d-c1b7"><rect class="cb" x="839" y="261" width="53" height="22" rx="3" stroke="#c8c800"/><use href="#dn" x="841.5" y="264.5" fill="#c8c800"/><text class="bt" x="870.5" y="275.2">DATA</text></g>
<g id="d-c1b8"><rect class="cb" x="912" y="261" width="34" height="22" rx="3" stroke="#0000ff"/><use href="#dn" x="914.5" y="264.5" fill="#0000ff"/><text class="bt" x="934" y="275.2">ACK</text></g>

<g id="d-c2a1"><rect class="cb" x="296" y="334" width="70" height="21" rx="3" stroke="#c8c800"/><use href="#up" x="298.5" y="337" fill="#c8c800"/><text class="bt" x="336" y="347.7">DATA</text></g>
<g id="d-c2a2"><rect class="cb" x="368" y="334" width="34" height="21" rx="3" stroke="#c8c800"/><use href="#up" x="370.5" y="337" fill="#c8c800"/><text class="bt" x="390" y="347.7">ACK</text></g>
<g id="d-c2a3"><rect class="cb" x="404" y="334" width="43" height="21" rx="3" stroke="#c8c800"/><use href="#up" x="406.5" y="337" fill="#c8c800"/><text class="bt" x="430.5" y="347.7">DATA</text></g>
<g id="d-c2a4"><rect class="cb" x="731" y="334" width="71" height="21" rx="3" stroke="#ff0000"/><use href="#up" x="733.5" y="337" fill="#ff0000"/><text class="bt" x="771.5" y="347.7">DATA</text></g>
<g id="d-c2a5"><rect class="cb" x="840" y="334" width="53" height="21" rx="3" stroke="#ff0000"/><use href="#up" x="842.5" y="337" fill="#ff0000"/><text class="bt" x="871.5" y="347.7">DATA</text></g>
<g id="d-c2b1"><rect class="cb" x="296" y="358" width="70" height="22" rx="3" stroke="#990099"/><use href="#dn" x="298.5" y="361.5" fill="#990099"/><text class="bt" x="336" y="372.2">DATA</text></g>
<g id="d-c2b2"><rect class="cb" x="368" y="358" width="34" height="22" rx="3" stroke="#990099"/><use href="#dn" x="370.5" y="361.5" fill="#990099"/><text class="bt" x="390" y="372.2">ACK</text></g>
<g id="d-c2b3"><rect class="cb" x="404" y="358" width="70" height="22" rx="3" stroke="#990099"/><use href="#dn" x="406.5" y="361.5" fill="#990099"/><text class="bt" x="444" y="372.2">DATA</text></g>
<g id="d-c2b4"><rect class="cb" x="477" y="358" width="34" height="22" rx="3" stroke="#990099"/><use href="#dn" x="479.5" y="361.5" fill="#990099"/><text class="bt" x="499" y="372.2">ACK</text></g>
<g id="d-c2b5"><rect class="cb" x="731" y="358" width="71" height="22" rx="3" stroke="#c8c800"/><use href="#dn" x="733.5" y="361.5" fill="#c8c800"/><text class="bt" x="771.5" y="372.2">DATA</text></g>
<g id="d-c2b6"><rect class="cb" x="803" y="358" width="34" height="22" rx="3" stroke="#c8c800"/><use href="#dn" x="805.5" y="361.5" fill="#c8c800"/><text class="bt" x="825" y="372.2">ACK</text></g>
<g id="d-c2b7"><rect class="cb" x="839" y="358" width="70" height="22" rx="3" stroke="#c8c800"/><use href="#dn" x="841.5" y="361.5" fill="#c8c800"/><text class="bt" x="879" y="372.2">DATA</text></g>

<g id="d-c3a1"><rect class="cb" x="296" y="430" width="70" height="21" rx="3" stroke="#c8c800"/><use href="#up" x="298.5" y="433" fill="#c8c800"/><text class="bt" x="336" y="443.7">DATA</text></g>
<g id="d-c3a2"><rect class="cb" x="368" y="430" width="34" height="21" rx="3" stroke="#c8c800"/><use href="#up" x="370.5" y="433" fill="#c8c800"/><text class="bt" x="390" y="443.7">ACK</text></g>
<g id="d-c3a3"><rect class="cb" x="477" y="430" width="34" height="21" rx="3" stroke="#c8c800"/><use href="#up" x="479.5" y="433" fill="#c8c800"/><text class="bt" x="499" y="443.7">ACK</text></g>
<g id="d-c3a4"><rect class="cb" x="802" y="430" width="34" height="21" rx="3" stroke="#ff0000"/><use href="#up" x="804.5" y="433" fill="#ff0000"/><text class="bt" x="824" y="443.7">ACK</text></g>
<g id="d-c3a5"><rect class="cb" x="912" y="430" width="34" height="21" rx="3" stroke="#ff0000"/><use href="#up" x="914.5" y="433" fill="#ff0000"/><text class="bt" x="934" y="443.7">ACK</text></g>
<g id="d-c3b1"><rect class="cb" x="296" y="454" width="70" height="22" rx="3" stroke="#009900"/><use href="#up" x="298.5" y="457.5" fill="#009900"/><text class="bt" x="336" y="468.2">DATA</text></g>
<g id="d-c3b2"><rect class="cb" x="368" y="454" width="34" height="22" rx="3" stroke="#009900"/><use href="#up" x="370.5" y="457.5" fill="#009900"/><text class="bt" x="390" y="468.2">ACK</text></g>
<g id="d-c3b3"><rect class="cb" x="404" y="454" width="55" height="22" rx="3" stroke="#009900"/><use href="#up" x="406.5" y="457.5" fill="#009900"/><text class="bt" x="436.5" y="468.2">DATA</text></g>
<g id="d-c3b4"><rect class="cb" x="477" y="454" width="34" height="22" rx="3" stroke="#009900"/><use href="#up" x="479.5" y="457.5" fill="#009900"/><text class="bt" x="499" y="468.2">ACK</text></g>
<g id="d-c3b5"><rect class="cb" x="731" y="454" width="58" height="22" rx="3" stroke="#0000ff"/><use href="#up" x="733.5" y="457.5" fill="#0000ff"/><text class="bt" x="765.5" y="468.2">DATA</text></g>
<g id="d-c3b6"><rect class="cb" x="802" y="454" width="34" height="22" rx="3" stroke="#0000ff"/><use href="#up" x="804.5" y="457.5" fill="#0000ff"/><text class="bt" x="824" y="468.2">ACK</text></g>
<g id="d-c3b7"><rect class="cb" x="912" y="454" width="34" height="22" rx="3" stroke="#0000ff"/><use href="#up" x="914.5" y="457.5" fill="#0000ff"/><text class="bt" x="934" y="468.2">ACK</text></g>
</g>
</g>
</svg>
